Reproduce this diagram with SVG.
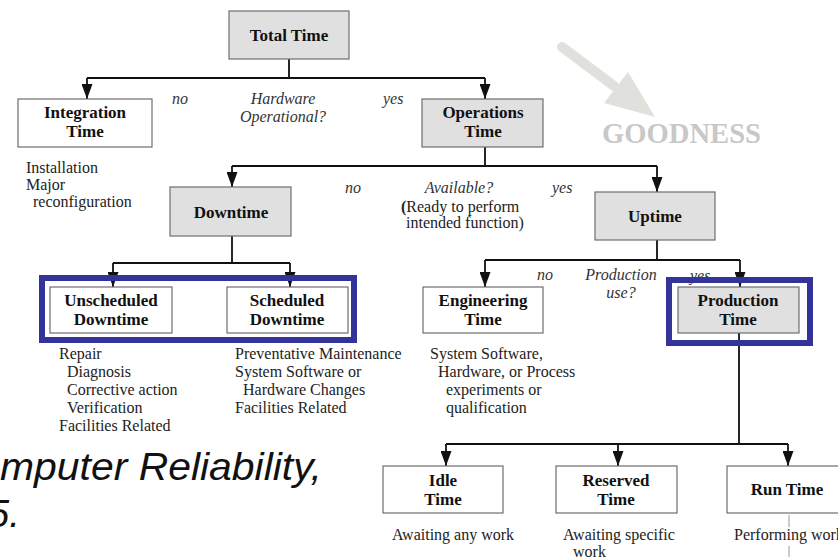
<svg xmlns="http://www.w3.org/2000/svg" width="838" height="557" viewBox="0 0 838 557">
<defs>
<style>
.box{stroke:#6e6e6e;stroke-width:1.2}
.g{fill:#e0e0e0}
.w{fill:#ffffff}
.lbl{font-family:"Liberation Serif","Times New Roman",serif;font-weight:bold;font-size:17px;fill:#111;text-anchor:middle}
.d{font-family:"Liberation Serif","Times New Roman",serif;font-size:16px;fill:#222}
.q{font-family:"Liberation Serif","Times New Roman",serif;font-style:italic;font-size:16px;fill:#333}
.c{fill:none;stroke:#111;stroke-width:1.8}
.hl{fill:none;stroke:#333399;stroke-width:6}
</style>
<marker id="ah" viewBox="0 0 15 11" markerWidth="15" markerHeight="11" refX="15" refY="5.5" orient="auto" markerUnits="userSpaceOnUse">
<path d="M0,0 L15,5.5 L0,11 z" fill="#111"/>
</marker>
</defs>
<rect width="838" height="557" fill="#ffffff"/>

<!-- goodness -->
<g id="goodness">
<line x1="562" y1="47" x2="614" y2="86" stroke="#e0e0dc" stroke-width="10" stroke-linecap="round"/>
<polygon points="604,103 628,72 655,117" fill="#e0e0dc"/>
<text x="602" y="143" font-family="Liberation Serif,Times New Roman,serif" font-weight="bold" font-size="30" fill="#c8c8c8" textLength="159" lengthAdjust="spacingAndGlyphs">GOODNESS</text>
</g>

<!-- connectors -->
<g id="connectors">
<path class="c" d="M289 59 V78 M87 78 H485"/>
<path class="c" d="M87 78 V99" marker-end="url(#ah)"/>
<path class="c" d="M485 78 V99" marker-end="url(#ah)"/>
<path class="c" d="M485 147 V166 M232 166 H657"/>
<path class="c" d="M232 166 V187" marker-end="url(#ah)"/>
<path class="c" d="M657 166 V192" marker-end="url(#ah)"/>
<path class="c" d="M232 236 V263 M113 263 H290"/>
<path class="c" d="M113 263 V287" marker-end="url(#ah)"/>
<path class="c" d="M290 263 V287" marker-end="url(#ah)"/>
<path class="c" d="M657 240 V260 M485 260 H740"/>
<path class="c" d="M485 260 V287" marker-end="url(#ah)"/>
<path class="c" d="M740 260 V287" marker-end="url(#ah)"/>
<path class="c" d="M739 333 V444 M446 444 H788"/>
<path class="c" d="M446 444 V466" marker-end="url(#ah)"/>
<path class="c" d="M618 444 V466" marker-end="url(#ah)"/>
<path class="c" d="M788 444 V466" marker-end="url(#ah)"/>
<path d="M789 515 V527 M789 546 V557" stroke="#999" stroke-width="1" fill="none"/>
</g>

<!-- decision labels -->
<g id="decisions">
<text class="q" x="172" y="104">no</text>
<text class="q" x="283" y="104" text-anchor="middle">Hardware</text>
<text class="q" x="283" y="122" text-anchor="middle">Operational?</text>
<text class="q" x="383" y="104">yes</text>
<text class="q" x="345" y="193">no</text>
<text class="q" x="459" y="193" text-anchor="middle">Available?</text>
<text class="d" x="401" y="212"><tspan font-weight="bold">(</tspan>Ready to perform</text>
<text class="d" x="406" y="228">intended function)</text>
<text class="q" x="552" y="193">yes</text>
<text class="q" x="537" y="280">no</text>
<text class="q" x="621" y="280" text-anchor="middle">Production</text>
<text class="q" x="621" y="298" text-anchor="middle">use?</text>
<text class="q" x="690" y="281">yes</text>
</g>

<g id="total"><rect class="box g" x="229" y="11" width="120" height="48"/><text class="lbl" x="289" y="41">Total Time</text></g>
<g id="integration"><rect class="box w" x="18" y="99" width="134" height="48"/><text class="lbl" x="85" y="118">Integration</text><text class="lbl" x="85" y="137">Time</text></g>
<g id="operations"><rect class="box g" x="422" y="99" width="121" height="48"/><text class="lbl" x="483" y="118">Operations</text><text class="lbl" x="483" y="137">Time</text></g>
<g id="downtime"><rect class="box g" x="170" y="187" width="121" height="49"/><text class="lbl" x="231" y="218">Downtime</text></g>
<g id="uptime"><rect class="box g" x="595" y="192" width="120" height="48"/><text class="lbl" x="655" y="222">Uptime</text></g>
<g id="unscheduled"><rect class="box w" x="50" y="287" width="122" height="46"/><text class="lbl" x="111" y="306">Unscheduled</text><text class="lbl" x="111" y="325">Downtime</text></g>
<g id="scheduled"><rect class="box w" x="227" y="287" width="121" height="46"/><text class="lbl" x="287" y="306">Scheduled</text><text class="lbl" x="287" y="325">Downtime</text></g>
<g id="engineering"><rect class="box w" x="423" y="287" width="120" height="46"/><text class="lbl" x="483" y="306">Engineering</text><text class="lbl" x="483" y="325">Time</text></g>
<g id="production"><rect class="box g" x="678" y="287" width="121" height="46"/><text class="lbl" x="738" y="306">Production</text><text class="lbl" x="738" y="325">Time</text></g>
<g id="idle"><rect class="box w" x="383" y="466" width="120" height="47"/><text class="lbl" x="443" y="486">Idle</text><text class="lbl" x="443" y="505">Time</text></g>
<g id="reserved"><rect class="box w" x="556" y="466" width="121" height="47"/><text class="lbl" x="616" y="486">Reserved</text><text class="lbl" x="616" y="505">Time</text></g>
<g id="run"><rect class="box w" x="727" y="466" width="125" height="47"/><text class="lbl" x="787" y="495">Run Time</text></g>

<!-- descriptions -->
<g id="notes">
<text class="d" x="26" y="173">Installation</text>
<text class="d" x="26" y="190">Major</text>
<text class="d" x="33" y="207">reconfiguration</text>
<text class="d" x="59" y="359">Repair</text>
<text class="d" x="67" y="377">Diagnosis</text>
<text class="d" x="67" y="395">Corrective action</text>
<text class="d" x="67" y="413">Verification</text>
<text class="d" x="59" y="431">Facilities Related</text>
<text class="d" x="235" y="359">Preventative Maintenance</text>
<text class="d" x="235" y="377">System Software or</text>
<text class="d" x="243" y="395">Hardware Changes</text>
<text class="d" x="235" y="413">Facilities Related</text>
<text class="d" x="430" y="359">System Software,</text>
<text class="d" x="438" y="377">Hardware, or Process</text>
<text class="d" x="446" y="395">experiments or</text>
<text class="d" x="446" y="413">qualification</text>
<text class="d" x="392" y="540">Awaiting any work</text>
<text class="d" x="563" y="540">Awaiting specific</text>
<text class="d" x="573" y="557">work</text>
<text class="d" x="734" y="540">Performing work</text>
</g>

<!-- highlights -->
<g id="highlights">
<rect class="hl" x="42" y="278" width="312" height="62"/>
<rect class="hl" x="669" y="280" width="141" height="63"/>
</g>

<g id="caption" font-family="Liberation Sans,Arial,Helvetica,sans-serif" font-style="italic" font-size="38" fill="#111">
<text x="0" y="480" textLength="322" lengthAdjust="spacingAndGlyphs">mputer Reliability,</text>
<text x="-12" y="527">5.</text>
</g>
</svg>
